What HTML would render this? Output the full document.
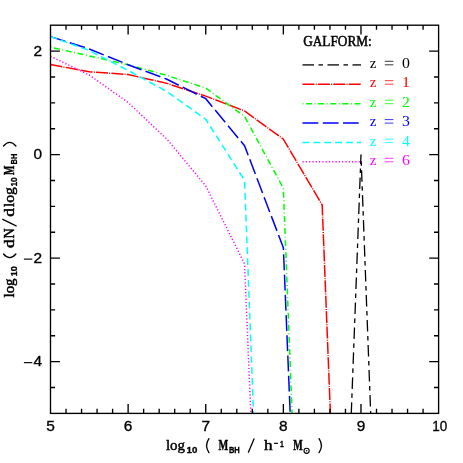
<!DOCTYPE html>
<html><head><meta charset="utf-8"><title>plot</title>
<style>
html,body{margin:0;padding:0;background:#fff;}
body{width:463px;height:463px;overflow:hidden;}
svg{display:block;will-change:transform;}
.t{font-family:"Liberation Sans",sans-serif;font-size:14px;fill:#000;stroke:#000;stroke-width:0.32px;}
.s{font-family:"Liberation Serif",serif;fill:#000;}
.sb{font-family:"Liberation Serif",serif;fill:#000;stroke:#000;stroke-width:0.48px;}
.sbb{font-family:"Liberation Serif",serif;font-weight:bold;fill:#000;stroke:#000;stroke-width:0.45px;}
.sub{font-family:"Liberation Sans",sans-serif;font-weight:bold;fill:#000;stroke:#000;stroke-width:0.3px;}
.pl{fill:none;stroke:#000;stroke-width:1.3px;stroke-linecap:round;}
</style></head><body>
<svg width="463" height="463" viewBox="0 0 463 463">
<rect x="0" y="0" width="463" height="463" fill="#fff"/>
<defs><clipPath id="cp"><rect x="50.50" y="25.20" width="388.10" height="388.20"/></clipPath></defs>

<g clip-path="url(#cp)" fill="none" stroke-linejoin="miter">
<path d="M322.17 1189.80 L360.98 154.60 L399.79 1189.80" stroke="#000" stroke-width="1.3" stroke-dasharray="11.5 4.5 4.5 4.5" stroke-dashoffset="-1.5"/>
<path d="M50.50 64.54 L89.31 71.78 L128.12 74.53 L166.93 83.38 L205.74 96.11 L244.55 110.97 L283.36 139.18 L322.17 205.01 L360.98 1189.80" stroke="#ff0000" stroke-width="1.5" stroke-dasharray="12 1.2 1 1.2" stroke-dashoffset="0"/>
<path d="M50.50 47.20 L89.31 55.89 L128.12 64.80 L166.93 75.41 L205.74 88.09 L244.55 116.40 L283.36 188.24 L322.17 1189.80" stroke="#00ff00" stroke-width="1.5" stroke-dasharray="0.9 2.6 6 2.6" stroke-dashoffset="0"/>
<path d="M50.50 36.59 L89.31 49.01 L128.12 64.69 L166.93 79.29 L205.74 98.70 L244.55 145.70 L283.36 247.77 L322.17 1189.80" stroke="#0000ff" stroke-width="1.5" stroke-dasharray="15.8 4.45" stroke-dashoffset="0"/>
<path d="M50.50 36.59 L89.31 50.56 L128.12 70.39 L166.93 91.61 L205.74 119.30 L244.55 180.38 L283.36 1189.80" stroke="#00ffff" stroke-width="1.5" stroke-dasharray="6.8 4.1" stroke-dashoffset="0"/>
<path d="M50.50 56.26 L89.31 75.10 L128.12 102.48 L166.93 139.23 L205.74 185.91 L244.55 263.81 L283.36 1189.80" stroke="#ff00ff" stroke-width="1.5" stroke-dasharray="1.2 2.1" stroke-dashoffset="0"/>
</g>
<g fill="none">
<path d="M302.5 64.8 H361.0" stroke="#444" stroke-width="1.7" stroke-dasharray="11.5 4.5 4.5 4.5"/>
<path d="M302.5 84.2 H361.0" stroke="#ff0000" stroke-width="1.5" stroke-dasharray="12 1.2 1 1.2"/>
<path d="M302.5 103.7 H361.0" stroke="#00ff00" stroke-width="1.5" stroke-dasharray="0.9 2.6 6 2.6"/>
<path d="M302.5 123.1 H358.7" stroke="#0000ff" stroke-width="1.5" stroke-dasharray="15.8 4.45"/>
<path d="M302.5 142.6 H361.0" stroke="#00ffff" stroke-width="1.5" stroke-dasharray="6.8 4.1"/>
<path d="M302.5 161.8 H361.0" stroke="#ff00ff" stroke-width="1.5" stroke-dasharray="1.2 2.1"/>
</g>
<text class="s" style="fill:#000" font-size="15" x="369.7" y="67.8">z</text>
<path d="M384.8 61.30H393.4M384.8 64.80H393.4" stroke="#000" stroke-width="0.78" fill="none"/>
<text class="s" style="fill:#000" font-size="14.5" x="402.0" y="67.8" textLength="7.9" lengthAdjust="spacingAndGlyphs">0</text>
<text class="s" style="fill:#ff0000" font-size="15" x="369.7" y="87.2">z</text>
<path d="M384.8 80.70H393.4M384.8 84.20H393.4" stroke="#ff0000" stroke-width="0.78" fill="none"/>
<text class="s" style="fill:#ff0000" font-size="14.5" x="402.0" y="87.2" textLength="7.9" lengthAdjust="spacingAndGlyphs">1</text>
<text class="s" style="fill:#00ff00" font-size="15" x="369.7" y="106.7">z</text>
<path d="M384.8 100.20H393.4M384.8 103.70H393.4" stroke="#00ff00" stroke-width="0.78" fill="none"/>
<text class="s" style="fill:#00ff00" font-size="14.5" x="402.0" y="106.7" textLength="7.9" lengthAdjust="spacingAndGlyphs">2</text>
<text class="s" style="fill:#0000ff" font-size="15" x="369.7" y="126.1">z</text>
<path d="M384.8 119.60H393.4M384.8 123.10H393.4" stroke="#0000ff" stroke-width="0.78" fill="none"/>
<text class="s" style="fill:#0000ff" font-size="14.5" x="402.0" y="126.1" textLength="7.9" lengthAdjust="spacingAndGlyphs">3</text>
<text class="s" style="fill:#00ffff" font-size="15" x="369.7" y="145.6">z</text>
<path d="M384.8 139.10H393.4M384.8 142.60H393.4" stroke="#00ffff" stroke-width="0.78" fill="none"/>
<text class="s" style="fill:#00ffff" font-size="14.5" x="402.0" y="145.6" textLength="7.9" lengthAdjust="spacingAndGlyphs">4</text>
<text class="s" style="fill:#ff00ff" font-size="15" x="369.7" y="164.8">z</text>
<path d="M384.8 158.30H393.4M384.8 161.80H393.4" stroke="#ff00ff" stroke-width="0.78" fill="none"/>
<text class="s" style="fill:#ff00ff" font-size="14.5" x="402.0" y="164.8" textLength="7.9" lengthAdjust="spacingAndGlyphs">6</text>
<text class="sb" font-size="14" x="303.2" y="46.1" textLength="68.6" lengthAdjust="spacingAndGlyphs">GALFORM:</text>
<g stroke="#000" stroke-width="1.35" fill="none" stroke-linecap="butt">
<rect x="50.50" y="25.20" width="388.10" height="388.20"/>
<path d="M66.02 413.40v-4.6 M66.02 25.20v4.6 M81.55 413.40v-4.6 M81.55 25.20v4.6 M97.07 413.40v-4.6 M97.07 25.20v4.6 M112.60 413.40v-4.6 M112.60 25.20v4.6 M128.12 413.40v-9.4 M128.12 25.20v9.4 M143.64 413.40v-4.6 M143.64 25.20v4.6 M159.17 413.40v-4.6 M159.17 25.20v4.6 M174.69 413.40v-4.6 M174.69 25.20v4.6 M190.22 413.40v-4.6 M190.22 25.20v4.6 M205.74 413.40v-9.4 M205.74 25.20v9.4 M221.26 413.40v-4.6 M221.26 25.20v4.6 M236.79 413.40v-4.6 M236.79 25.20v4.6 M252.31 413.40v-4.6 M252.31 25.20v4.6 M267.84 413.40v-4.6 M267.84 25.20v4.6 M283.36 413.40v-9.4 M283.36 25.20v9.4 M298.88 413.40v-4.6 M298.88 25.20v4.6 M314.41 413.40v-4.6 M314.41 25.20v4.6 M329.93 413.40v-4.6 M329.93 25.20v4.6 M345.46 413.40v-4.6 M345.46 25.20v4.6 M360.98 413.40v-9.4 M360.98 25.20v9.4 M376.50 413.40v-4.6 M376.50 25.20v4.6 M392.03 413.40v-4.6 M392.03 25.20v4.6 M407.55 413.40v-4.6 M407.55 25.20v4.6 M423.08 413.40v-4.6 M423.08 25.20v4.6 M50.50 387.52h4.6 M438.60 387.52h-4.6 M50.50 361.64h9.4 M438.60 361.64h-9.4 M50.50 335.76h4.6 M438.60 335.76h-4.6 M50.50 309.88h4.6 M438.60 309.88h-4.6 M50.50 284.00h4.6 M438.60 284.00h-4.6 M50.50 258.12h9.4 M438.60 258.12h-9.4 M50.50 232.24h4.6 M438.60 232.24h-4.6 M50.50 206.36h4.6 M438.60 206.36h-4.6 M50.50 180.48h4.6 M438.60 180.48h-4.6 M50.50 154.60h9.4 M438.60 154.60h-9.4 M50.50 128.72h4.6 M438.60 128.72h-4.6 M50.50 102.84h4.6 M438.60 102.84h-4.6 M50.50 76.96h4.6 M438.60 76.96h-4.6 M50.50 51.08h9.4 M438.60 51.08h-9.4"/>
</g>
<text class="t" x="50.50" y="430.8" text-anchor="middle" textLength="8.60" lengthAdjust="spacingAndGlyphs">5</text>
<text class="t" x="128.12" y="430.8" text-anchor="middle" textLength="8.60" lengthAdjust="spacingAndGlyphs">6</text>
<text class="t" x="205.74" y="430.8" text-anchor="middle" textLength="8.60" lengthAdjust="spacingAndGlyphs">7</text>
<text class="t" x="283.36" y="430.8" text-anchor="middle" textLength="8.60" lengthAdjust="spacingAndGlyphs">8</text>
<text class="t" x="360.98" y="430.8" text-anchor="middle" textLength="8.60" lengthAdjust="spacingAndGlyphs">9</text>
<text class="t" x="439.70" y="430.8" text-anchor="middle" textLength="15.00" lengthAdjust="spacingAndGlyphs">10</text>
<text class="t" x="42.2" y="55.88" text-anchor="end" textLength="8.6" lengthAdjust="spacingAndGlyphs">2</text>
<text class="t" x="42.2" y="159.40" text-anchor="end" textLength="8.6" lengthAdjust="spacingAndGlyphs">0</text>
<text class="t" x="42.2" y="262.92" text-anchor="end" textLength="8.6" lengthAdjust="spacingAndGlyphs">2</text>
<path d="M23.9 259.12H32.3" stroke="#000" stroke-width="1.15" fill="none"/>
<text class="t" x="42.2" y="366.44" text-anchor="end" textLength="8.6" lengthAdjust="spacingAndGlyphs">4</text>
<path d="M23.9 362.64H32.3" stroke="#000" stroke-width="1.15" fill="none"/>
<g transform="translate(165.9,450.4)">
<text class="sb" font-size="15" x="0.00" y="0.00" textLength="19.10" lengthAdjust="spacingAndGlyphs">log</text>
<text class="sub" font-size="9" x="20.70" y="2.90" textLength="10.80" lengthAdjust="spacingAndGlyphs">10</text>
<text class="sbb" font-size="15" x="52.50" y="0.00" textLength="9.70" lengthAdjust="spacingAndGlyphs">M</text>
<text class="sub" font-size="8.5" x="63.00" y="2.90" textLength="10.90" lengthAdjust="spacingAndGlyphs">BH</text>
<text class="sb" font-size="15" x="98.20" y="0.00" textLength="8.60" lengthAdjust="spacingAndGlyphs">h</text>
<text class="sub" font-size="8" x="108.10" y="-4.50" textLength="4.30" lengthAdjust="spacingAndGlyphs">−</text>
<text class="sub" font-size="8.5" x="114.00" y="-3.90" textLength="3.80" lengthAdjust="spacingAndGlyphs">1</text>
<text class="sbb" font-size="15" x="127.40" y="0.00" textLength="9.50" lengthAdjust="spacingAndGlyphs">M</text>
<path class="pl" d="M43.0 -11.8Q38.4 -4.8 43.0 2.2"/><path class="pl" d="M153.2 -11.8Q157.8 -4.8 153.2 2.2"/><path class="pl" d="M82.5 1.8L88.1 -11.5"/>
<circle cx="140.7" cy="0.4" r="2.6" fill="none" stroke="#000" stroke-width="1.1"/><circle cx="140.7" cy="0.4" r="0.8" fill="#000"/>
</g>
<g transform="translate(14.3,297.5) rotate(-90)">
<text class="sb" font-size="15" x="0.00" y="0.00" textLength="19.10" lengthAdjust="spacingAndGlyphs">log</text>
<text class="sub" font-size="9" x="21.20" y="2.90" textLength="10.10" lengthAdjust="spacingAndGlyphs">10</text>
<text class="sb" font-size="15" x="49.60" y="0.00" textLength="8.60" lengthAdjust="spacingAndGlyphs">d</text>
<text class="sb" font-size="15" x="59.00" y="0.00" textLength="10.20" lengthAdjust="spacingAndGlyphs">N</text>
<text class="sb" font-size="15" x="80.80" y="0.00" textLength="8.60" lengthAdjust="spacingAndGlyphs">d</text>
<text class="sb" font-size="15" x="90.40" y="0.00" textLength="20.10" lengthAdjust="spacingAndGlyphs">log</text>
<text class="sub" font-size="9" x="110.90" y="2.90" textLength="9.30" lengthAdjust="spacingAndGlyphs">10</text>
<text class="sbb" font-size="15.5" x="122.40" y="0.00" textLength="9.50" lengthAdjust="spacingAndGlyphs">M</text>
<text class="sub" font-size="9" x="133.00" y="2.90" textLength="10.80" lengthAdjust="spacingAndGlyphs">BH</text>
<path class="pl" d="M43.5 -10.8Q36.3 -4.6 43.5 1.6"/><path class="pl" d="M151.5 -10.8Q158.7 -4.6 151.5 1.6"/><path class="pl" d="M71.6 1.8L78.2 -11.5"/>
</g>
</svg></body></html>
